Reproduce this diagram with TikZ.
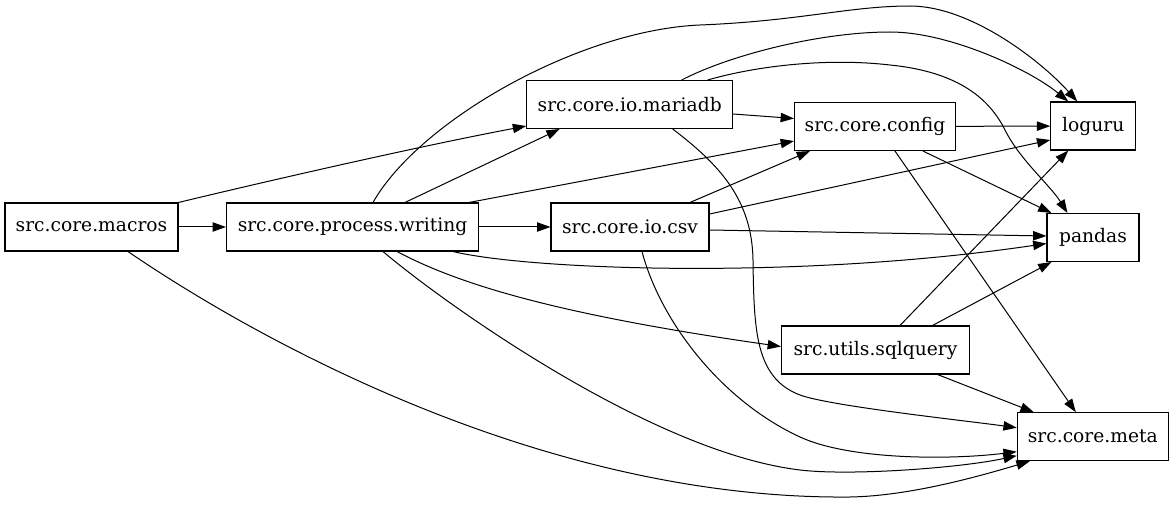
\documentclass[tikz,border=0pt]{standalone}
\usepackage{fontspec}
\setmainfont{DejaVu Serif}
\newfontfamily\nodefont{DejaVu Serif}
\usetikzlibrary{arrows.meta,calc}
\begin{document}
\begin{tikzpicture}[x=0.75pt,y=-0.75pt,
  box/.style={draw, line width=0.8pt, rectangle, minimum height=36pt, inner sep=0pt,
    font=\nodefont\fontsize{14pt}{16pt}\selectfont},
  edge/.style={draw, line width=0.75pt, -{Triangle[length=10pt,width=7pt]}}]
\useasboundingbox (0,0) rectangle (1175,506);
\node[box, minimum width=129.75pt] (mc) at (91.5,227) {src.core.macros};
\node[box, minimum width=189pt] (wr) at (352.5,227) {src.core.process.writing};
\node[box, minimum width=154.5pt] (md) at (629.7,104.5) {src.core.io.mariadb};
\node[box, minimum width=118.5pt] (csv) at (630,227) {src.core.io.csv};
\node[box, minimum width=120.75pt] (cf) at (875,126.5) {src.core.config};
\node[box, minimum width=63.75pt] (lg) at (1093.3,126) {loguru};
\node[box, minimum width=69pt] (pd) at (1093,237.5) {pandas};
\node[box, minimum width=141pt] (sq) at (875.5,350) {src.utils.sqlquery};
\node[box, minimum width=113.25pt] (mt) at (1092.8,436.7) {src.core.meta};

% macros
\draw[edge] (mc) -- (wr);
\draw[edge] (mc.north east) .. controls (230,190) and (400,150) .. ($(md.south west)+(0,-3)$);
\draw[edge] ($(mc.south)+(36.5,0)$) .. controls (250,335) and (540,500) .. (850,497)
  .. controls (910,496) and (980,476) .. ($(mt.south west)+(13,0)$);
% writing
\draw[edge] ($(wr.north)+(52.5,0)$) -- ($(md.south)+(-70,0)$);
\draw[edge] ($(wr.north east)+(-10,0)$) -- ($(cf.south west)+(0,-10)$);
\draw[edge] (wr) -- (csv);
\draw[edge] ($(wr.north)+(20.5,0)$) .. controls (420,120) and (580,30) .. (700,25)
  .. controls (800,21) and (850,6) .. (910,6)
  .. controls (970,6) and (1040,60) .. ($(lg.north)+(-16,0)$);
\draw[edge] ($(wr.south)+(100.5,0)$) .. controls (530,270) and (800,280) .. ($(pd.west)+(0,6)$);
\draw[edge] ($(wr.south)+(44.5,0)$) .. controls (460,285) and (560,315) .. ($(sq.west)+(0,-3.5)$);
\draw[edge] ($(wr.south)+(30.5,0)$) .. controls (440,300) and (650,452) .. (800,470)
  .. controls (850,476) and (960,468) .. ($(mt.west)+(0,19)$);
% mariadb
\draw[edge] ($(md.north)+(52,0)$) .. controls (730,55) and (820,32) .. (890,32)
  .. controls (950,32) and (1030,70) .. ($(lg.north)+(-25,0)$);
\draw[edge] ($(md.north)+(78,0)$) .. controls (760,65) and (830,58) .. (890,65)
  .. controls (960,72) and (990,100) .. (1005,130)
  .. controls (1020,160) and (1050,185) .. ($(pd.north west)+(21,0)$);
\draw[edge] ($(md.east)+(0,9.5)$) -- ($(cf.west)+(0,-8)$);
\draw[edge] ($(md.south)+(43,0)$) .. controls (720,165) and (752,200) .. (753,260)
  .. controls (754,330) and (755,378) .. (800,395)
  .. controls (830,406) and (960,420) .. ($(mt.west)+(0,-9)$);
% csv
\draw[edge] ($(csv.north)+(60,0)$) -- ($(cf.south)+(-65,0)$);
\draw[edge] ($(csv.east)+(0,-13)$) -- ($(lg.west)+(0,14)$);
\draw[edge] ($(csv.east)+(0,3)$) -- ($(pd.west)+(0,-1.5)$);
\draw[edge] ($(csv.south)+(12,0)$) .. controls (660,320) and (720,400) .. (800,437)
  .. controls (850,460) and (950,460) .. ($(mt.west)+(0,15)$);
% config
\draw[edge] (cf) -- (lg);
\draw[edge] ($(cf.south)+(48,0)$) -- ($(pd.north west)+(5,0)$);
\draw[edge] ($(cf.south)+(20,0)$) -- ($(mt.north)+(-17,0)$);
% sqlquery
\draw[edge] ($(sq.north)+(24.5,0)$) -- ($(lg.south)+(-25,0)$);
\draw[edge] ($(sq.north)+(57,0)$) -- ($(pd.south west)+(5,0)$);
\draw[edge] ($(sq.south)+(62,0)$) -- ($(mt.north west)+(17,0)$);
\end{tikzpicture}
\end{document}
